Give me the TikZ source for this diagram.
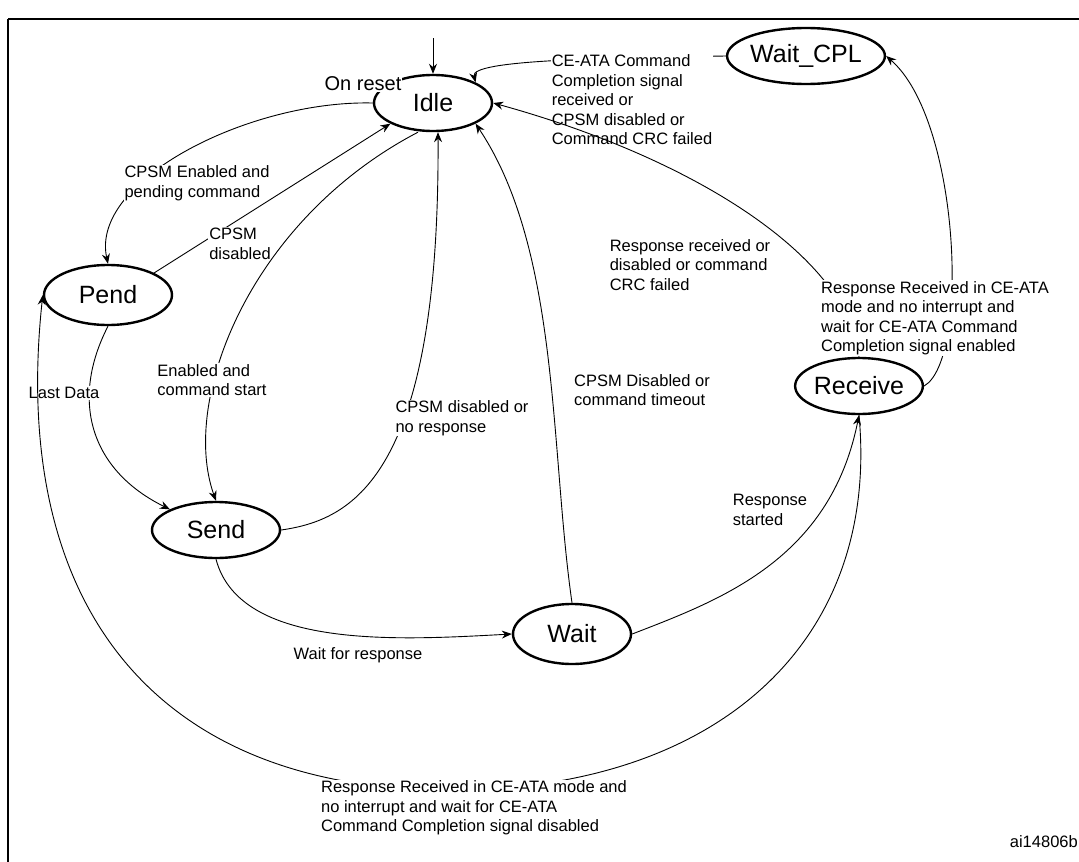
\documentclass[tikz,border=0pt]{standalone}
\usepackage{fontspec}
\setmainfont{Liberation Sans}
\usetikzlibrary{shapes.geometric,arrows.meta,calc}
\begin{document}
\begin{tikzpicture}[x=1pt,y=-1pt,
  st/.style={ellipse,draw,line width=2.4pt,minimum width=118pt,minimum height=56pt,inner sep=0pt,font=\fontsize{25}{28}\selectfont},
  tr/.style={-{Stealth[length=10pt,width=8pt]},line width=0.9pt},
  lb/.style={font=\fontsize{16.5}{19.5}\selectfont,align=center,inner sep=1pt,fill=white}]
\useasboundingbox (0,0) rectangle (1079,862);
\draw[line width=1.6pt] (8,19) -- (1079,19) (8,19) -- (8,862);
\node[st] (idle) at (433,103) {Idle};
\node[st] (wcpl) at (806,56) {Wait\_CPL};
\node[st,minimum width=128pt,minimum height=60pt] (pend) at (108,295) {Pend};
\node[st] (rec) at (859,386) {Receive};
\node[st,minimum width=128pt] (send) at (216,530) {Send};
\node[st,minimum height=60pt] (wait) at (572,634) {Wait};
\coordinate (top) at (433,38);
\draw[tr] (top) -- (idle.north);
\node[lb,font=\fontsize{20}{23}\selectfont] (l0) at (363,84) {On reset};
\draw[tr] (wcpl.west) .. controls (600,58) and (470,60) .. (idle.north east);
\node[lb,align=left] (l1) at (632,100) {CE-ATA Command\\Completion signal\\received or\\CPSM disabled or\\Command CRC failed};
\draw[tr] (idle.west) .. controls (250,100) and (90,180) .. (pend.north);
\node[lb,align=left] (l2) at (197,183) {CPSM Enabled and\\pending command};
\draw[tr] (pend.north east) -- (idle.south west);
\node[lb,align=left] (l3) at (240,244) {CPSM\\disabled};
\draw[tr] ($(idle.south)+(-15,0)$) .. controls (250,220) and (180,400) .. (send.north);
\node[lb,align=left] (l4) at (212,380) {Enabled and\\command start};
\draw[tr] (send.east) .. controls (350,520) and (440,480) .. ($(idle.south)+(5,0)$);
\node[lb,align=left] (l5) at (462,418) {CPSM disabled or\\no response};
\draw[tr] (wait.north) .. controls (550,450) and (560,250) .. (idle.south east);
\node[lb,align=left] (l6) at (642,390) {CPSM Disabled or\\command timeout};
\draw[tr] (rec.north) .. controls (850,260) and (700,160) .. (idle.east);
\node[lb,align=left] (l7) at (690,265) {Response received or\\disabled or command\\CRC failed};
\draw[tr] (rec.east) .. controls (970,360) and (960,120) .. (wcpl.east);
\node[lb,align=left] (l8) at (935,318) {Response Received in CE-ATA\\mode and no interrupt and\\wait for CE-ATA Command\\Completion signal enabled};
\draw[tr] (pend.south) .. controls (70,400) and (90,470) .. (send.north west);
\node[lb] (l9) at (64,393) {Last Data};
\draw[tr] (send.south) .. controls (240,650) and (400,640) .. (wait.west);
\node[lb] (l10) at (358,655) {Wait for response};
\draw[tr] (wait.east) .. controls (720,600) and (830,560) .. (rec.south);
\node[lb,align=left] (l11) at (770,510) {Response\\started};
\draw[tr] (rec.south) .. controls (880,640) and (720,790) .. (450,790) .. controls (150,790) and (10,600) .. (pend.west);
\node[lb,align=left] (l12) at (474,808) {Response Received in CE-ATA mode and\\no interrupt and wait for CE-ATA\\Command Completion signal disabled};
\node[font=\fontsize{16.5}{19}\selectfont,anchor=east,inner sep=1pt] (id) at (1079,842) {ai14806b};
\end{tikzpicture}
\end{document}
